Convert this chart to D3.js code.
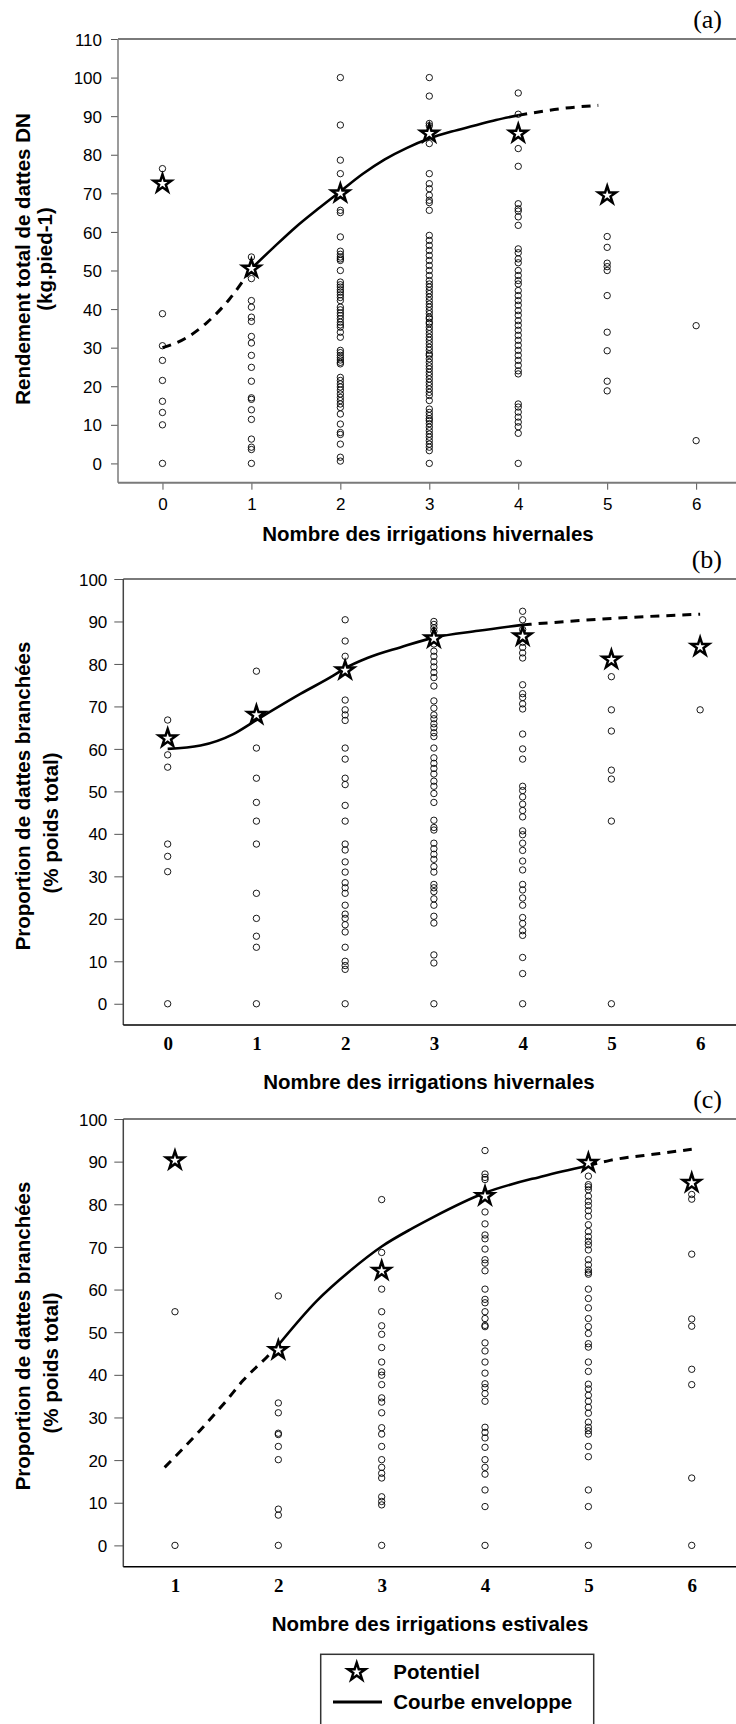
<!DOCTYPE html>
<html><head><meta charset="utf-8">
<script src="https://cdn.jsdelivr.net/npm/d3@7"></script>
<style>body{margin:0;background:#fff}svg{display:block}</style>
</head><body>
<svg id="chart" width="736" height="1724"></svg>
<script>
// ---------- DATA ----------
const irrigHiver = [0, 1, 2, 3, 4, 5, 6];
const irrigEte = [1, 2, 3, 4, 5, 6];
const ticksA = [0, 10, 20, 30, 40, 50, 60, 70, 80, 90, 100, 110];
const ticksBC = [0, 10, 20, 30, 40, 50, 60, 70, 80, 90, 100];

// (a) Rendement total (kg/pied) by number of winter irrigations
const rendA0 = [76.4, 38.8, 30.5, 26.7, 21.5, 16.1, 13.2, 10, 0];
const rendA1 = [53.5, 47.9, 42.2, 40.5, 37.9, 36.8, 32.9, 31.2, 28, 24.9, 21.3, 17, 16.6, 13.9, 11.4, 6.3, 4.2, 3.6, 0];
const rendA2 = [100, 87.7, 78.6, 75.1, 65.6, 65, 58.7, 55, 54.2, 53.5, 53, 52.6, 50, 47, 46.3, 45.7, 45, 44.4, 43.7, 43, 42.2, 40.5, 39.8, 39, 38.3, 37.5, 36.6, 35.9, 35.3, 34, 32.7, 29.3, 28.7, 28, 27.4, 26.8, 26.2, 25.8, 22.3, 21.5, 20.6, 19.8, 19, 18, 17.1, 16.3, 15.4, 14.5, 12.8, 10.2, 8, 7.5, 5, 1.6, 0.6];
const rendA3 = [100, 95.2, 88.1, 87.5, 82.9, 75.1, 72.5, 71.2, 69.5, 68.2, 67.6, 65.6, 59.1, 57.8, 56.5, 55.2, 53.9, 52.6, 51.3, 50, 48.7, 47.4, 46.5, 45.7, 44.8, 44, 43.1, 42.2, 41.3, 40.5, 39.6, 38.8, 37.9, 37.5, 36.6, 36.2, 35.3, 34.5, 33.6, 32.7, 31.9, 31, 30.1, 29.3, 28.4, 28, 27.1, 26.2, 25.3, 24.5, 23.6, 22.8, 21.9, 21, 20.2, 19.3, 18.4, 17.6, 16.3, 14.1, 13.2, 12.4, 11.6, 11.1, 10.3, 9.4, 8.5, 7.6, 6.8, 5.9, 5, 4.2, 3.3, 0];
const rendA4 = [96, 90.5, 81.6, 77, 67.3, 66, 65.4, 63.9, 61.7, 55.6, 54.6, 53, 52, 50, 48.7, 47.4, 46.5, 44.8, 43.5, 42.2, 41, 39.6, 38.4, 37, 35.8, 34.5, 33.2, 31.9, 30.6, 29.3, 28, 26.7, 25.4, 24, 23.2, 15.4, 14.6, 13.3, 12, 10.7, 9.5, 7.8, 0];
const rendA5 = [58.8, 56, 51.9, 51, 50, 43.5, 34, 29.2, 21.3, 18.8];
const rendA6 = [35.7, 5.9];
const potA = [72.5, 50.5, 70, 85.5, 85.5, 69.5];            // x = 0..5
const envAx = [0, 0.25, 0.5, 0.75, 1, 1.25, 1.5, 1.75, 2, 2.25, 2.5, 2.75, 3, 3.25, 3.5, 3.75, 4, 4.5, 4.9];
const envAy = [30, 32.3, 36.5, 42.5, 50.5, 56, 61.3, 66, 70.5, 75, 78.8, 81.8, 84.2, 86, 87.5, 89, 90.2, 92, 92.8];
const envASolid = [1, 4];

// (b) Proportion de dattes branchées by winter irrigations
const propB0 = [66.8, 58.6, 55.7, 37.6, 34.7, 31.1, 0];
const propB1 = [78.3, 60.2, 53.1, 47.4, 43, 37.6, 26, 20.1, 15.9, 13.3, 0];
const propB2 = [90.4, 85.4, 81.8, 71.5, 69.2, 68, 66.7, 60.2, 57.6, 53.1, 51.6, 46.7, 43, 37.6, 36.2, 33.4, 31, 28.5, 27.3, 26, 23.2, 21.1, 20.1, 18.6, 16.9, 13.3, 10, 9, 8.1, 0];
const propB3 = [90, 89.3, 88.5, 87.7, 84.7, 83, 81.8, 80.5, 79.3, 78, 76.8, 74.8, 71.3, 69.6, 68, 67.1, 65.9, 65, 63.8, 62.9, 60.2, 57.9, 56.6, 55.4, 54.1, 52.4, 51.2, 49.5, 47.4, 43.2, 41.5, 40.9, 37.8, 36.5, 35.2, 34, 32.3, 31, 28.1, 27.3, 26.4, 24.7, 23.2, 20.6, 19, 11.5, 9.6, 0];
const propB4 = [92.4, 90.4, 88.1, 85.1, 83.9, 82.6, 81.4, 75.1, 73, 72.1, 70.6, 69.4, 63.5, 60, 57.6, 51.2, 50.2, 48.7, 47, 45.5, 44, 40.7, 39.8, 37.8, 36.1, 33.6, 31.5, 28.1, 26.8, 24.9, 23.2, 20.3, 18.9, 17.2, 16.1, 10.9, 7.1, 0];
const propB5 = [77, 69.2, 64.2, 55, 52.9, 43, 0];
const propB6 = [69.2];
const potB = [62.5, 68, 78.5, 86, 86.5, 81, 84];            // x = 0..6
const envBx = [0, 0.37, 0.74, 1, 1.5, 1.87, 2, 2.25, 2.62, 3, 3.5, 4, 4.5, 5.25, 6];
const envBy = [60, 60.8, 63.5, 66.8, 73, 77.3, 79, 81.4, 83.9, 86.2, 87.8, 89.2, 90, 91, 91.7];
const envBSolid = [0, 4];

// (c) Proportion de dattes branchées by summer irrigations
const propC1 = [54.8, 0];
const propC2 = [58.5, 33.4, 31.1, 26.3, 26, 23.2, 20.1, 8.5, 7.1, 0];
const propC3 = [81.1, 68.7, 60.1, 54.8, 51.5, 49.5, 46.4, 43, 40.7, 39.9, 37.7, 34.6, 33.6, 31.1, 27.6, 26.1, 23.2, 20.1, 18.3, 16.9, 15.8, 11.4, 10.3, 9.5, 0];
const propC4 = [92.6, 87.1, 86.3, 85.8, 78.2, 75.4, 72.8, 71.9, 69.5, 67, 66.2, 64.4, 60.1, 57.7, 56.9, 54.8, 53.2, 51.6, 51.3, 47.5, 45.6, 43, 40.4, 37.9, 37, 35.6, 33.8, 27.7, 26.5, 25.2, 23, 20.1, 18.3, 16.7, 13, 9.1, 0];
const propC5 = [86.6, 84.6, 84.1, 83.4, 81.9, 80.7, 79.7, 78.5, 77.2, 75.2, 73.6, 72.4, 71.3, 70.5, 69.3, 67, 65.8, 64.6, 64, 63.6, 60.1, 57.9, 55.7, 53.2, 51.3, 49.7, 47.3, 46.5, 43, 40.8, 37.8, 36.7, 35.2, 33.8, 32.4, 31, 28.9, 27.7, 26.9, 26.1, 23.2, 20.8, 13, 9.1, 0];
const propC6 = [82.3, 81.2, 68.3, 53.1, 51.4, 41.3, 37.7, 15.8, 0];
const potC = [90.3, 45.8, 64.4, 81.9, 89.7, 85];            // x = 1..6
const envCx = [0.9, 1.24, 1.5, 1.66, 1.89, 2, 2.37, 2.69, 3, 3.3, 3.5, 4, 4.56, 5, 5.21, 5.69, 6];
const envCy = [18.3, 26.9, 34, 38.7, 44.2, 47, 57.3, 64.3, 70.1, 74.4, 77, 82.7, 86.6, 89.1, 90.3, 91.9, 92.9];
const envCSolid = [2, 5];

const titleA = ["Rendement total de dattes DN", "(kg.pied-1)"];
const titleBC = ["Proportion de dattes branchées", "(% poids total)"];
const xTitleHiver = "Nombre des irrigations hivernales";
const xTitleEte = "Nombre des irrigations estivales";
const legendLabels = ["Potentiel", "Courbe enveloppe"];

// ---------- DRAW ----------
const svg = d3.select("#chart");
const SANS = "'Liberation Sans', Arial, sans-serif";
const SERIF = "'Liberation Serif', 'Times New Roman', serif";
const starGen = d3.symbol().type(d3.symbolStar).size(97);

const panels = [
  { tag: "(a)", cats: irrigHiver, cols: [rendA0, rendA1, rendA2, rendA3, rendA4, rendA5, rendA6],
    pot: potA, potX: irrigHiver.slice(0, 6), ex: envAx, ey: envAy, solid: envASolid,
    xd: [-0.5, 6.5], yd: [-5, 110], ticks: ticksA, left: 118, right: 740.6, top: 39, bottom: 482.7,
    ytitle: titleA, xtitle: xTitleHiver, style: "a" },
  { tag: "(b)", cats: irrigHiver, cols: [propB0, propB1, propB2, propB3, propB4, propB5, propB6],
    pot: potB, potX: irrigHiver, ex: envBx, ey: envBy, solid: envBSolid,
    xd: [-0.5, 6.5], yd: [-5, 100], ticks: ticksBC, left: 123.3, right: 744.5, top: 579, bottom: 1025,
    ytitle: titleBC, xtitle: xTitleHiver, style: "b" },
  { tag: "(c)", cats: irrigEte, cols: [propC1, propC2, propC3, propC4, propC5, propC6],
    pot: potC, potX: irrigEte, ex: envCx, ey: envCy, solid: envCSolid,
    xd: [0.5, 6.5], yd: [-5, 100], ticks: ticksBC, left: 123.3, right: 743.4, top: 1119, bottom: 1566.7,
    ytitle: titleBC, xtitle: xTitleEte, style: "c" }
];

panels.forEach(p => {
  const x = d3.scaleLinear().domain(p.xd).range([p.left, p.right]);
  const y = d3.scaleLinear().domain(p.yd).range([p.bottom, p.top]);
  const g = svg.append("g");
  const isA = p.style === "a";

  // y axis with ticks
  const yAxis = d3.axisLeft(y).tickValues(p.ticks).tickSize(isA ? 7 : 9).tickPadding(isA ? 9 : 7).tickSizeOuter(0);
  const ya = g.append("g").attr("transform", `translate(${p.left},0)`).call(yAxis);
  ya.select(".domain").remove();
  ya.selectAll(".tick line").attr("stroke", "#555").attr("stroke-width", 1);
  ya.selectAll(".tick text").attr("font-family", SANS).attr("font-size", 17).attr("fill", "#000").attr("dy", "0.36em");

  // x axis
  const xAxis = d3.axisBottom(x).tickValues(p.cats).tickFormat(d3.format("d")).tickSize(isA ? 7 : 0).tickPadding(isA ? 8 : 12).tickSizeOuter(0);
  const xa = g.append("g").attr("transform", `translate(0,${p.bottom})`).call(xAxis);
  xa.select(".domain").remove();
  xa.selectAll(".tick line").attr("stroke", "#555");
  xa.selectAll(".tick text")
    .attr("font-family", isA ? SANS : SERIF)
    .attr("font-weight", isA ? "normal" : "bold")
    .attr("font-size", isA ? 17 : 19).attr("fill", "#000");

  // frame lines
  g.append("line").attr("x1", p.left).attr("x2", p.right).attr("y1", p.top).attr("y2", p.top)
    .attr("stroke", "#7a7a7a").attr("stroke-width", 2);
  g.append("line").attr("x1", p.left).attr("x2", p.left).attr("y1", p.top).attr("y2", p.bottom)
    .attr("stroke", isA ? "#7a7a7a" : "#444").attr("stroke-width", 1.5);
  g.append("line").attr("x1", p.left).attr("x2", p.right).attr("y1", p.bottom).attr("y2", p.bottom)
    .attr("stroke", isA ? "#7a7a7a" : "#000").attr("stroke-width", isA ? 2 : 1.6);

  // observations
  const pts = [];
  p.cols.forEach((col, i) => col.forEach(v => pts.push([p.cats[i], v])));
  g.append("g").selectAll("circle").data(pts).join("circle")
    .attr("cx", d => x(d[0])).attr("cy", d => y(d[1])).attr("r", 3.2)
    .attr("fill", "none").attr("stroke", "#000").attr("stroke-width", 0.9);

  // envelope curve
  const env = p.ex.map((v, i) => [v, p.ey[i]]);
  const line = d3.line().x(d => x(d[0])).y(d => y(d[1])).curve(d3.curveMonotoneX);
  const low = env.filter(d => d[0] <= p.solid[0]);
  const mid = env.filter(d => d[0] >= p.solid[0] && d[0] <= p.solid[1]);
  const high = env.filter(d => d[0] >= p.solid[1]);
  if (low.length > 1) g.append("path").attr("d", line(low)).attr("fill", "none").attr("stroke", "#000")
    .attr("stroke-width", 3).attr("stroke-dasharray", "9,7");
  g.append("path").attr("d", line(mid)).attr("fill", "none").attr("stroke", "#000").attr("stroke-width", 2.6);
  if (high.length > 1) g.append("path").attr("d", line(high)).attr("fill", "none").attr("stroke", "#000")
    .attr("stroke-width", 3).attr("stroke-dasharray", "9,7");

  // potential stars
  g.append("g").selectAll("path").data(p.pot.map((v, i) => [p.potX[i], v])).join("path")
    .attr("d", starGen).attr("transform", d => `translate(${x(d[0])},${y(d[1])})`)
    .attr("fill", "#fff").attr("stroke", "#000").attr("stroke-width", 2.5).attr("stroke-linejoin", "miter");

  // panel tag
  g.append("text").attr("x", 722).attr("y", p.top - 11).attr("text-anchor", "end")
    .attr("font-family", SERIF).attr("font-size", 26).attr("fill", "#000").text(p.tag);

  // y title
  const cy1 = isA ? (p.top + 220) : (p.top + 217);
  const cy2 = isA ? (p.top + 220) : (p.top + 244);
  const bx1 = isA ? 30 : 29.5;
  const bx2 = isA ? 52 : 57.5;
  g.append("text").attr("transform", `translate(${bx1},${cy1}) rotate(-90)`).attr("text-anchor", "middle")
    .attr("font-family", SANS).attr("font-weight", "bold").attr("font-size", 20.5).text(p.ytitle[0]);
  g.append("text").attr("transform", `translate(${bx2},${cy2}) rotate(-90)`).attr("text-anchor", "middle")
    .attr("font-family", SANS).attr("font-weight", "bold").attr("font-size", 20.5).text(p.ytitle[1]);

  // x title
  g.append("text").attr("x", isA ? 428 : (p.style === "b" ? 429 : 430))
    .attr("y", isA ? p.bottom + 57.8 : p.bottom + 64)
    .attr("text-anchor", "middle").attr("font-family", SANS).attr("font-weight", "bold")
    .attr("font-size", 20.5).text(p.xtitle);
});

// legend
const lg = svg.append("g");
lg.append("rect").attr("x", 320.7).attr("y", 1654.3).attr("width", 273).attr("height", 120)
  .attr("fill", "#fff").attr("stroke", "#333").attr("stroke-width", 1.5);
lg.append("path").attr("d", starGen).attr("transform", "translate(356.7,1672)")
  .attr("fill", "#fff").attr("stroke", "#000").attr("stroke-width", 2.5);
lg.append("line").attr("x1", 333).attr("x2", 382).attr("y1", 1702).attr("y2", 1702)
  .attr("stroke", "#000").attr("stroke-width", 3);
lg.append("text").attr("x", 393.3).attr("y", 1679).attr("font-family", SANS).attr("font-weight", "bold")
  .attr("font-size", 20.5).text(legendLabels[0]);
lg.append("text").attr("x", 393.3).attr("y", 1709).attr("font-family", SANS).attr("font-weight", "bold")
  .attr("font-size", 20.5).text(legendLabels[1]);
</script>
</body></html>
